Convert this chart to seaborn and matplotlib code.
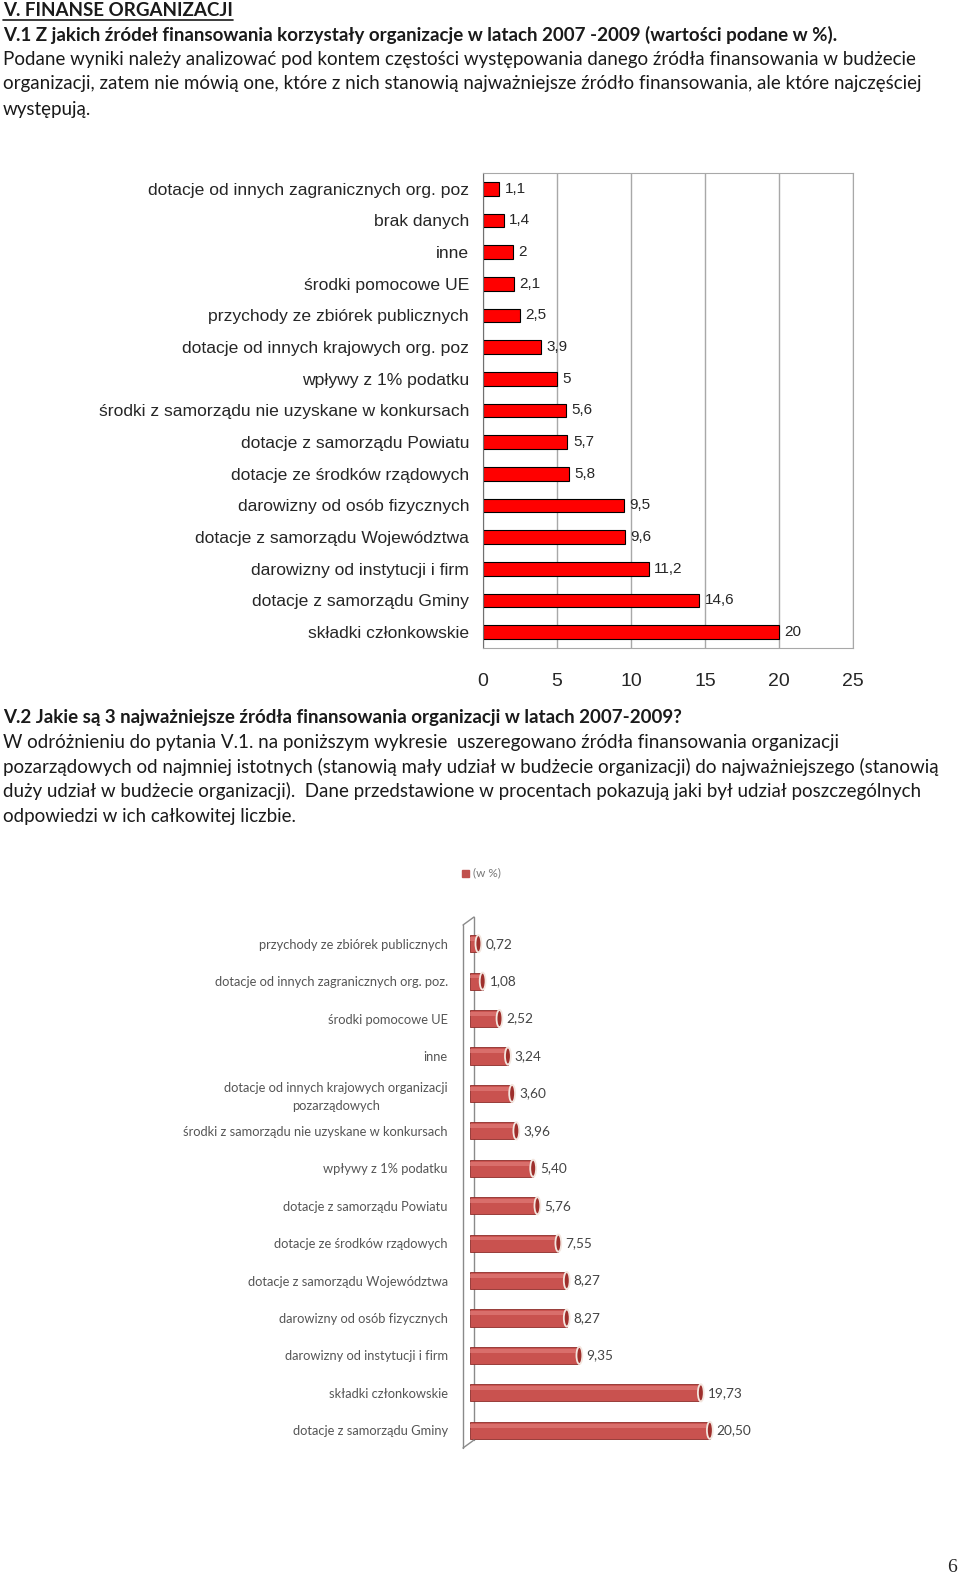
import numpy as np
import matplotlib
matplotlib.use('Agg')
import matplotlib.pyplot as plt
import seaborn as sns
from matplotlib.lines import Line2D
from matplotlib.patches import Ellipse, Rectangle

# V.1 - sources of funding used (in %)
cats1 = ['dotacje od innych zagranicznych org. poz', 'brak danych', 'inne',
         'środki pomocowe UE', 'przychody ze zbiórek publicznych',
         'dotacje od innych krajowych org. poz', 'wpływy z 1% podatku',
         'środki z samorządu nie uzyskane w konkursach', 'dotacje z samorządu Powiatu',
         'dotacje ze środków rządowych', 'darowizny od osób fizycznych',
         'dotacje z samorządu Województwa', 'darowizny od instytucji i firm',
         'dotacje z samorządu Gminy', 'składki członkowskie']
vals1 = [1.1, 1.4, 2, 2.1, 2.5, 3.9, 5, 5.6, 5.7, 5.8, 9.5, 9.6, 11.2, 14.6, 20]
xticks1 = [0, 5, 10, 15, 20, 25]

# V.2 - most important sources (in %)
cats2 = ['przychody ze zbiórek publicznych', 'dotacje od innych zagranicznych org. poz.',
         'środki pomocowe UE', 'inne',
         'dotacje od innych krajowych organizacji\npozarządowych',
         'środki z samorządu nie uzyskane w konkursach', 'wpływy z 1% podatku',
         'dotacje z samorządu Powiatu', 'dotacje ze środków rządowych',
         'dotacje z samorządu Województwa', 'darowizny od osób fizycznych',
         'darowizny od instytucji i firm', 'składki członkowskie',
         'dotacje z samorządu Gminy']
vals2 = [0.72, 1.08, 2.52, 3.24, 3.60, 3.96, 5.40, 5.76, 7.55, 8.27, 8.27, 9.35, 19.73, 20.50]
legend2 = '(w %)'

head1 = 'V. FINANSE ORGANIZACJI'
head2 = 'V.1 Z jakich źródeł finansowania korzystały organizacje w latach 2007 -2009 (wartości podane w %).'
para1 = ['Podane wyniki należy analizować pod kontem częstości występowania danego źródła finansowania w budżecie',
         'organizacji, zatem nie mówią one, które z nich stanowią najważniejsze źródło finansowania, ale które najczęściej',
         'występują.']
head3 = 'V.2 Jakie są 3 najważniejsze źródła finansowania organizacji w latach 2007-2009?'
para2 = ['W odróżnieniu do pytania V.1. na poniższym wykresie  uszeregowano źródła finansowania organizacji',
         'pozarządowych od najmniej istotnych (stanowią mały udział w budżecie organizacji) do najważniejszego (stanowią',
         'duży udział w budżecie organizacji).  Dane przedstawione w procentach pokazują jaki był udział poszczególnych',
         'odpowiedzi w ich całkowitej liczbie.']

sns.set_style('white')
plt.rcParams['font.family'] = ['Lato', 'DejaVu Sans']

W, H = 960, 1580
fig = plt.figure(figsize=(W / 100, H / 100), dpi=100)
fig.patch.set_facecolor('white')

def fy(y):
    return 1 - y / H

# page text
tfs = 13.5
t = fig.text(3 / W, fy(10), head1, fontsize=tfs, fontweight='bold', va='center', color='#1a1a1a')
fig.text(3 / W, fy(35), head2, fontsize=tfs, fontweight='bold', va='center', color='#1a1a1a')
for i, line in enumerate(para1):
    fig.text(3 / W, fy(59 + i * 25), line, fontsize=tfs, va='center', color='#1a1a1a')
fig.text(3 / W, fy(717), head3, fontsize=tfs, fontweight='bold', va='center', color='#1a1a1a')
for i, line in enumerate(para2):
    fig.text(3 / W, fy(742 + i * 24.7), line, fontsize=tfs, va='center', color='#1a1a1a')
fig.text(952 / W, fy(1568), '6', fontsize=14, family='Liberation Serif', ha='center', va='center')

# underline the section header
fig.canvas.draw()
bb = t.get_window_extent()
fig.add_artist(Line2D([bb.x0 / W, bb.x1 / W], [(bb.y0 - 1) / H] * 2, color='#1a1a1a', lw=1.2))

# ---- chart 1 ----
ax1 = fig.add_axes([483 / W, fy(648), 370 / W, (648 - 173) / H])
sns.barplot(x=vals1, y=cats1, orient='h', color='#ff0000', edgecolor='black',
            linewidth=0.8, width=0.44, saturation=1, ax=ax1)
ax1.set_xlim(0, 25)
ax1.set_xticks(xticks1)
ax1.xaxis.grid(True, color='#a8a8a8', lw=1)
ax1.set_axisbelow(True)
for s in ax1.spines.values():
    s.set_color('#a8a8a8')
ax1.spines['left'].set_color('#707070')
ax1.tick_params(axis='x', length=0, pad=18, labelsize=14, labelfontfamily='Liberation Sans')
ax1.tick_params(axis='y', which='major', length=0, pad=10, labelsize=12.6, labelfontfamily='Liberation Sans')
ax1.set_yticks(np.arange(-0.5, len(cats1), 1), minor=True)
ax1.tick_params(axis='y', which='minor', length=5, color='#707070')
ax1.bar_label(ax1.containers[0], labels=[f'{v:g}'.replace('.', ',') for v in vals1],
              padding=4, fontsize=11, family='Liberation Sans')
ax1.set_xlabel('')
ax1.set_ylabel('')

# ---- chart 2 ----
top2, bot2, left2 = 925, 1449, 470
ax2 = fig.add_axes([left2 / W, fy(bot2), 351 / W, (bot2 - top2) / H])
ax2.patch.set_alpha(0)
sns.barplot(x=vals2, y=cats2, orient='h', color='#c9524f', edgecolor='#8c2c29',
            linewidth=0.6, width=0.46, saturation=1, ax=ax2)
ax2.set_xlim(0, 30)
ax2.set_xticks([])
for s in ['top', 'right', 'bottom', 'left']:
    ax2.spines[s].set_visible(False)
ax2.tick_params(axis='y', length=0, pad=16, labelsize=9.3, labelcolor='#555555')
for lab in ax2.get_yticklabels():
    lab.set_multialignment('center')
    lab.set_linespacing(1.55)
# cylinder look: highlight strip and end caps
for p in list(ax2.patches):
    x0, y0, w, h = p.get_x(), p.get_y(), p.get_width(), p.get_height()
    ax2.add_patch(Rectangle((x0, y0 + h * 0.12), w, h * 0.22, facecolor='#e07a77',
                            edgecolor='none', alpha=0.7, zorder=2.5))
    ax2.add_patch(Ellipse((x0 + w, y0 + h / 2), 0.5, h, facecolor='#9e2f2c',
                          edgecolor='#f3e6df', lw=1.3, zorder=3))
ax2.bar_label(ax2.containers[0], labels=[f'{v:.2f}'.replace('.', ',') for v in vals2],
              padding=5, fontsize=9.8, color='#444444')
ax2.set_xlabel('')
ax2.set_ylabel('')

# 3D wall outline of chart 2
def wall(xs, ys, z):
    fig.add_artist(Line2D([x / W for x in xs], [fy(y) for y in ys], color='#8a8a8a', lw=1, zorder=z))

wall([463, 463], [top2, bot2 - 1], 3)
wall([463, 474], [top2, top2 - 8], 3)
wall([463, 474], [bot2 - 1, bot2 - 9], 3)
wall([474, 474], [top2 - 8, bot2 - 9], -1)

# legend of chart 2
fig.add_artist(Rectangle((462 / W, fy(877)), 7 / W, 7 / H, color='#c0504d', transform=fig.transFigure))
fig.text(473 / W, fy(873), legend2, fontsize=8.5, color='#777777', va='center')

fig.savefig('out.png', dpi=100, facecolor='white')
